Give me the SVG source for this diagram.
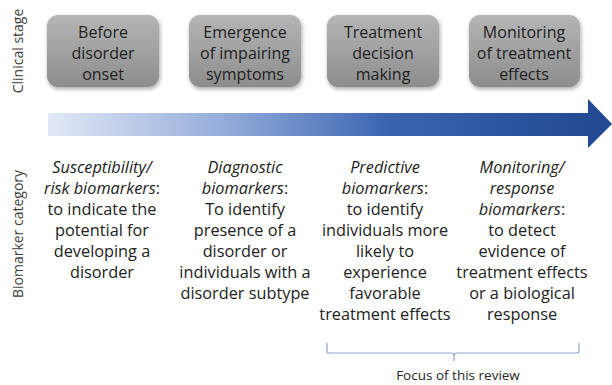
<svg xmlns="http://www.w3.org/2000/svg" width="612" height="385" viewBox="0 0 612 385">
<style>
  text { font-family: "Open Sans", "Liberation Sans", sans-serif; fill: #222222; }
  .box { fill: url(#boxGrad); filter: url(#shadow); }
  .bt { font-size: 16px; text-anchor: middle; }
  .ct { font-size: 16.3px; text-anchor: middle; }
  .it { font-style: italic; }
  .side { font-size: 14px; text-anchor: middle; fill: #404040; }
  .brk { fill: none; stroke: #8ea6d6; stroke-width: 1.2; }
</style>
<defs>
  <linearGradient id="boxGrad" x1="0" y1="0" x2="0" y2="1">
    <stop offset="0" stop-color="#b5b5b5"/>
    <stop offset="1" stop-color="#8d8d8d"/>
  </linearGradient>
  <linearGradient id="arrowGrad" x1="48" y1="0" x2="612" y2="0" gradientUnits="userSpaceOnUse">
    <stop offset="0" stop-color="#e2e8f5"/>
    <stop offset="0.3" stop-color="#98afdb"/>
    <stop offset="0.6" stop-color="#3c65b0"/>
    <stop offset="1" stop-color="#20478f"/>
  </linearGradient>
  <filter id="shadow" x="-10%" y="-10%" width="125%" height="130%">
    <feGaussianBlur in="SourceAlpha" stdDeviation="2"/>
    <feOffset dx="1" dy="2" result="b"/>
    <feComponentTransfer><feFuncA type="linear" slope="0.35"/></feComponentTransfer>
    <feMerge><feMergeNode/><feMergeNode in="SourceGraphic"/></feMerge>
  </filter>
</defs>
<rect width="612" height="385" fill="#ffffff"/>

<g id="label-clinical-stage">
  <text class="side" transform="translate(23,51) rotate(-90)">Clinical stage</text>
</g>
<g id="label-biomarker-category">
  <text class="side" transform="translate(23,234) rotate(-90)">Biomarker category</text>
</g>

<g id="stage-before">
  <rect class="box" x="47" y="15" width="112" height="72" rx="11"/>
  <text class="bt" x="103" y="38">Before</text>
  <text class="bt" x="103" y="59">disorder</text>
  <text class="bt" x="103" y="80">onset</text>
</g>
<g id="stage-emergence">
  <rect class="box" x="189" y="15" width="112" height="72" rx="11"/>
  <text class="bt" x="245" y="38">Emergence</text>
  <text class="bt" x="245" y="59">of impairing</text>
  <text class="bt" x="245" y="80">symptoms</text>
</g>
<g id="stage-treatment">
  <rect class="box" x="327" y="15" width="112" height="72" rx="11"/>
  <text class="bt" x="383" y="38">Treatment</text>
  <text class="bt" x="383" y="59">decision</text>
  <text class="bt" x="383" y="80">making</text>
</g>
<g id="stage-monitoring">
  <rect class="box" x="469" y="15" width="111" height="72" rx="11"/>
  <text class="bt" x="524" y="38">Monitoring</text>
  <text class="bt" x="524" y="59">of treatment</text>
  <text class="bt" x="524" y="80">effects</text>
</g>

<g id="timeline-arrow">
  <path d="M48,113 H588 V99 L612,124 L588,148 V136 H48 Z" fill="url(#arrowGrad)"/>
</g>

<g id="cat-susceptibility">
  <text class="ct it" x="102" y="173">Susceptibility/</text>
  <text class="ct" x="102" y="194"><tspan class="it">risk biomarkers</tspan>:</text>
  <text class="ct" x="102" y="215">to indicate the</text>
  <text class="ct" x="102" y="236">potential for</text>
  <text class="ct" x="102" y="257">developing a</text>
  <text class="ct" x="102" y="278">disorder</text>
</g>
<g id="cat-diagnostic">
  <text class="ct it" x="245" y="173">Diagnostic</text>
  <text class="ct" x="245" y="194"><tspan class="it">biomarkers</tspan>:</text>
  <text class="ct" x="245" y="215">To identify</text>
  <text class="ct" x="245" y="236">presence of a</text>
  <text class="ct" x="245" y="257">disorder or</text>
  <text class="ct" x="245" y="278">individuals with a</text>
  <text class="ct" x="245" y="299">disorder subtype</text>
</g>
<g id="cat-predictive">
  <text class="ct it" x="385" y="173">Predictive</text>
  <text class="ct" x="385" y="194"><tspan class="it">biomarkers</tspan>:</text>
  <text class="ct" x="385" y="215">to identify</text>
  <text class="ct" x="385" y="236">individuals more</text>
  <text class="ct" x="385" y="257">likely to</text>
  <text class="ct" x="385" y="278">experience</text>
  <text class="ct" x="385" y="299">favorable</text>
  <text class="ct" x="385" y="320">treatment effects</text>
</g>
<g id="cat-monitoring">
  <text class="ct it" x="522" y="173">Monitoring/</text>
  <text class="ct it" x="522" y="194">response</text>
  <text class="ct" x="522" y="215"><tspan class="it">biomarkers</tspan>:</text>
  <text class="ct" x="522" y="236">to detect</text>
  <text class="ct" x="522" y="257">evidence of</text>
  <text class="ct" x="522" y="278">treatment effects</text>
  <text class="ct" x="522" y="299">or a biological</text>
  <text class="ct" x="522" y="320">response</text>
</g>

<g id="connectors">
  <path class="brk" d="M327,343 V351 Q327,353 329,353 H451 Q454,353 454,356 V361 M454,356 Q454,353 457,353 H577 Q579,353 579,351 V343"/>
</g>
<g id="focus-label">
  <text x="458" y="380" style="font-size:13.5px; text-anchor:middle; fill:#262626">Focus of this review</text>
</g>
</svg>
